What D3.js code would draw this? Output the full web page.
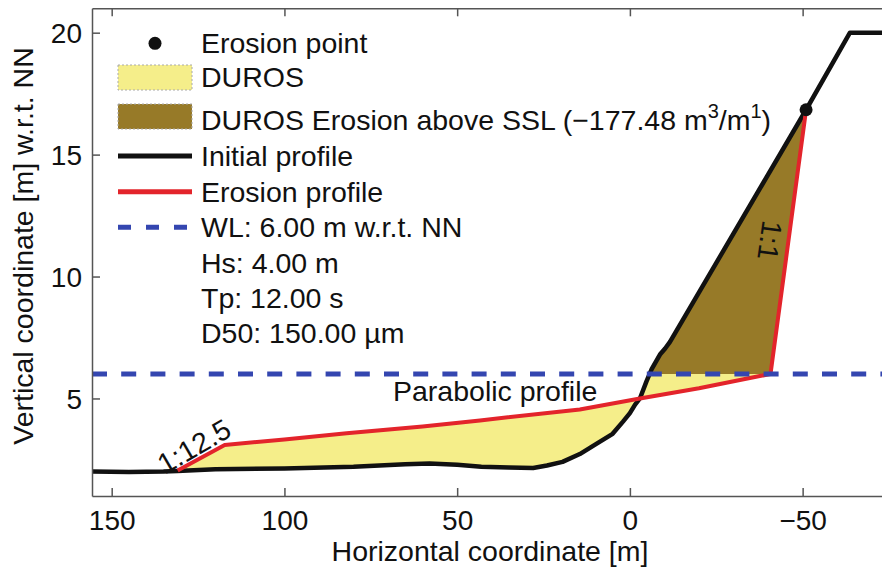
<!DOCTYPE html>
<html>
<head>
<meta charset="UTF-8">
<title>DUROS erosion profile</title>
<script src="https://d3js.org/d3.v7.min.js"></script>
<style>
  body { margin: 0; background: #fff; }
  svg text { font-family: "Liberation Sans", Arial, sans-serif; font-size: 28.5px; fill: #111; }
  .axis path, .axis line { stroke: #555; stroke-width: 1.5; }
</style>
</head>
<body>
<svg id="chart" width="882" height="570"></svg>
<script>
// axis ticks
var xTicks = [150, 100, 50, 0, -50];
var yTicks = [5, 10, 15, 20];

// initial profile (x in m, z in m w.r.t. NN)
var initialX = [155.7, 145, 135, 131, 120, 100, 80, 65, 58, 50, 43, 35, 28, 24, 19.5, 14.5, 9.6, 5, 2, 0, -1.5, -2.9, -4.8, -6.3, -8.7, -10.2, -11.6, -51, -63.7, -80];
var initialZ = [2.0, 1.98, 2.0, 2.03, 2.1, 2.13, 2.2, 2.3, 2.33, 2.28, 2.2, 2.17, 2.15, 2.25, 2.4, 2.72, 3.15, 3.55, 4.05, 4.4, 4.75, 5.0, 5.7, 6.2, 6.8, 7.05, 7.32, 16.84, 20.0, 20.0];

// DUROS erosion profile
var erosionX = [130.9, 117.3, 100, 82, 60, 43.4, 14.5, -2.9, -20, -37.6, -40.7, -51];
var erosionZ = [2.05, 3.09, 3.32, 3.57, 3.85, 4.1, 4.55, 5.0, 5.42, 5.92, 6.0, 16.84];

var erosionPoint = { x: -51, z: 16.84 };
var waterLevel = 6.0;

var legendLabels = ["Erosion point", "DUROS", "DUROS Erosion above SSL", "Initial profile", "Erosion profile", "WL: 6.00 m w.r.t. NN"];
var infoLines = ["Hs: 4.00 m", "Tp: 12.00 s", "D50: 150.00 \u00b5m"];
var erosionVolume = "\u2212177.48";

var svg = d3.select("#chart");

var x = d3.scaleLinear().domain([155.7, -75]).range([92, 889]);
var y = d3.scaleLinear().domain([1, 21]).range([496, 8.3]);

var initial = initialX.map(function (d, i) { return [d, initialZ[i]]; });
var erosion = erosionX.map(function (d, i) { return [d, erosionZ[i]]; });

var line = d3.line().x(function (d) { return x(d[0]); }).y(function (d) { return y(d[1]); });

var defs = svg.append("defs");
defs.append("clipPath").attr("id", "plotClip").append("rect")
  .attr("x", 92).attr("y", 8.3).attr("width", 797).attr("height", 496 - 8.3);
defs.append("clipPath").attr("id", "belowWL").append("rect")
  .attr("x", 92).attr("y", y(waterLevel)).attr("width", 797).attr("height", 496 - y(waterLevel));
defs.append("clipPath").attr("id", "aboveWL").append("rect")
  .attr("x", 92).attr("y", 8.3).attr("width", 797).attr("height", y(waterLevel) - 8.3);

var plot = svg.append("g").attr("clip-path", "url(#plotClip)");

// area between initial and erosion profile
var lo = d3.min(erosionX), hi = d3.max(erosionX) + 0.2;
var between = initial.filter(function (d) { return d[0] <= hi && d[0] >= lo; })
  .concat(erosion.slice().reverse());

plot.append("path").attr("d", line(between) + "Z")
  .attr("fill", "#f5ee8a").attr("clip-path", "url(#belowWL)");
plot.append("path").attr("d", line(between) + "Z")
  .attr("fill", "#977a28").attr("clip-path", "url(#aboveWL)");

plot.append("path").attr("d", line(initial))
  .attr("fill", "none").attr("stroke", "#111").attr("stroke-width", 4.5)
  .attr("stroke-linejoin", "round");
plot.append("path").attr("d", line(erosion))
  .attr("fill", "none").attr("stroke", "#e3242b").attr("stroke-width", 4)
  .attr("stroke-linejoin", "round");

plot.append("line")
  .attr("x1", x.range()[0]).attr("x2", x.range()[1])
  .attr("y1", y(waterLevel)).attr("y2", y(waterLevel))
  .attr("stroke", "#3446b0").attr("stroke-width", 5).attr("stroke-dasharray", "15,14.2");

plot.append("circle")
  .attr("cx", x(erosionPoint.x)).attr("cy", y(erosionPoint.z)).attr("r", 6.5)
  .attr("fill", "#111");

// annotations
svg.append("text").attr("x", 393).attr("y", 401).text("Parabolic profile");
svg.append("text").attr("text-anchor", "middle")
  .attr("transform", "translate(199,455) rotate(-30)").text("1:12.5");
svg.append("text").attr("text-anchor", "middle")
  .attr("transform", "translate(760,239) rotate(98)").text("1:1");

// axes
svg.append("g").attr("class", "axis").attr("transform", "translate(0,496)")
  .call(d3.axisBottom(x).tickValues(xTicks).tickSize(-8).tickSizeOuter(0))
  .call(function (g) { g.selectAll("text").attr("y", 34).attr("dy", 0).attr("fill", null); });
svg.append("g").attr("class", "axis").attr("transform", "translate(0,8.3)")
  .call(d3.axisTop(x).tickValues(xTicks).tickSize(-8).tickSizeOuter(0).tickFormat(""));
svg.append("g").attr("class", "axis").attr("transform", "translate(92,0)")
  .call(d3.axisLeft(y).tickValues(yTicks).tickSize(-8).tickSizeOuter(0))
  .call(function (g) { g.selectAll("text").attr("x", -10).attr("dy", "0.36em").attr("fill", null); });
svg.selectAll(".axis text").style("font-size", "28px");

svg.append("text").attr("x", 490).attr("y", 561).attr("text-anchor", "middle")
  .text("Horizontal coordinate [m]");
svg.append("text").attr("text-anchor", "middle")
  .attr("transform", "translate(33,246) rotate(-90)")
  .text("Vertical coordinate [m] w.r.t. NN");

// legend
var lg = svg.append("g");
var tx = 201;
lg.append("circle").attr("cx", 155).attr("cy", 43.3).attr("r", 6.5).attr("fill", "#111");
lg.append("rect").attr("x", 118).attr("y", 65).attr("width", 74).attr("height", 25)
  .attr("fill", "#f5ee8a").attr("stroke", "#aaa").attr("stroke-width", 1).attr("stroke-dasharray", "2,2");
lg.append("rect").attr("x", 118).attr("y", 104).attr("width", 74).attr("height", 25)
  .attr("fill", "#977a28").attr("stroke", "#aaa").attr("stroke-width", 1).attr("stroke-dasharray", "2,2");
lg.append("line").attr("x1", 118).attr("x2", 192).attr("y1", 156).attr("y2", 156)
  .attr("stroke", "#111").attr("stroke-width", 5);
lg.append("line").attr("x1", 118).attr("x2", 192).attr("y1", 191.7).attr("y2", 191.7)
  .attr("stroke", "#e3242b").attr("stroke-width", 5);
lg.append("line").attr("x1", 118).attr("x2", 192).attr("y1", 227.3).attr("y2", 227.3)
  .attr("stroke", "#3446b0").attr("stroke-width", 5).attr("stroke-dasharray", "13,15");

var baselines = [52.7, 87.3, 130, 165.7, 202, 237.3];
legendLabels.forEach(function (s, i) {
  var t = lg.append("text").attr("x", tx).attr("y", baselines[i]);
  if (i === 2) {
    t.append("tspan").text(s + " (" + erosionVolume + " m");
    t.append("tspan").attr("dy", -12).style("font-size", "20px").text("3");
    t.append("tspan").attr("dy", 12).text("/m");
    t.append("tspan").attr("dy", -12).style("font-size", "20px").text("1");
    t.append("tspan").attr("dy", 12).text(")");
  } else {
    t.text(s);
  }
});
infoLines.forEach(function (s, i) {
  lg.append("text").attr("x", tx).attr("y", 272.7 + i * 35.3).text(s);
});
</script>
</body>
</html>
